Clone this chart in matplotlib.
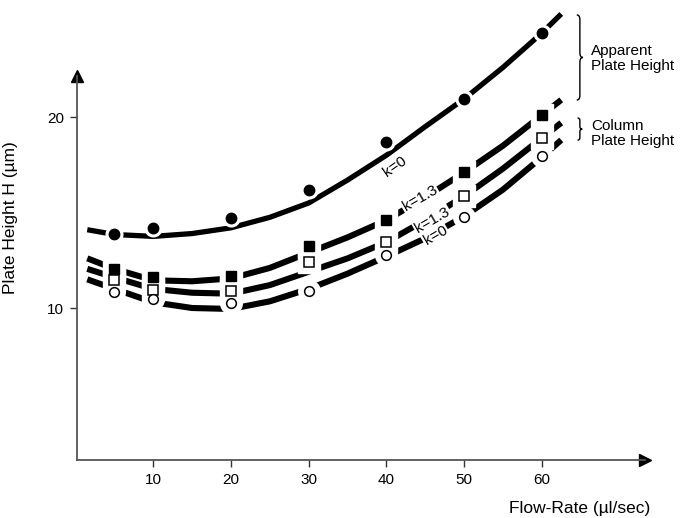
import matplotlib.pyplot as plt
from matplotlib.path import Path
from matplotlib.patches import PathPatch

plt.rcParams['font.family'] = ['Liberation Sans', 'DejaVu Sans']

# measured points (flow-rate in ul/sec, plate height in um)
flow = [5, 10, 20, 30, 40, 50, 60]
h_filled_circle = [13.9, 14.2, 14.7, 16.2, 18.7, 20.95, 24.4]
h_filled_square = [12.05, 11.6, 11.65, 13.25, 14.6, 17.1, 20.1]
h_open_square = [11.45, 10.95, 10.9, 12.4, 13.45, 15.85, 18.9]
h_open_circle = [10.85, 10.45, 10.25, 10.9, 12.75, 14.75, 17.95]

# fitted curves
curve_x = [1.5, 5, 10, 15, 20, 25, 30, 35, 40, 45, 50, 55, 60, 62.5]
curve_a = [14.1, 13.85, 13.75, 13.9, 14.2, 14.75, 15.5, 16.7, 18.0, 19.5, 20.95, 22.6, 24.4, 25.4]
curve_b = [12.6, 12.05, 11.45, 11.4, 11.55, 12.1, 12.9, 13.7, 14.6, 15.8, 17.1, 18.5, 20.1, 20.9]
curve_c = [12.05, 11.6, 11.0, 10.8, 10.75, 11.2, 11.9, 12.6, 13.45, 14.6, 15.85, 17.3, 18.9, 19.7]
curve_d = [11.5, 11.0, 10.3, 10.0, 9.95, 10.35, 11.0, 11.8, 12.7, 13.65, 14.8, 16.2, 17.9, 18.8]

xticks = [10, 20, 30, 40, 50, 60]
yticks = [10, 20]

fig = plt.figure(figsize=(6.85, 5.18), dpi=100)
ax = fig.add_axes([76.7 / 685, 58 / 518, (645 - 76.7) / 685, (460 - 76) / 518])
ax.set_xlim(0.14, 73.28)
ax.set_ylim(2.04, 22.15)

# curves
line_kw = dict(color='black', solid_capstyle='butt', solid_joinstyle='round', clip_on=False, zorder=2)
ax.plot(curve_x, curve_a, lw=3.8, **line_kw)
for cy in (curve_b, curve_c, curve_d):
    ax.plot(curve_x, cy, lw=4.4, **line_kw)

# white halos break the lines around the points
ax.plot(flow, h_filled_circle, 'o', ms=12, color='white', mec='white', clip_on=False, zorder=3)
for hy, m in ((h_filled_square, 's'), (h_open_square, 's'), (h_open_circle, 'o')):
    ax.plot(flow, hy, m, ms=15.5, color='white', mec='white', clip_on=False, zorder=3)

# points
ax.plot(flow, h_filled_circle, 'o', ms=7.5, color='black', clip_on=False, zorder=4)
ax.plot(flow, h_filled_square, 's', ms=7, color='black', clip_on=False, zorder=4)
ax.plot(flow, h_open_square, 's', ms=7, mfc='white', mec='black', mew=1.1, clip_on=False, zorder=4)
ax.plot(flow, h_open_circle, 'o', ms=7, mfc='white', mec='black', mew=1.1, clip_on=False, zorder=4)

# curve labels
ax.text(41.1, 17.4, 'k=0', fontsize=11, rotation=35, ha='center', va='center', zorder=5)
box = dict(facecolor='white', edgecolor='none', pad=1.0)
ax.text(44.3, 15.75, 'k=1.3', fontsize=11, rotation=30, ha='center', va='center', bbox=box, zorder=5)
ax.text(45.9, 14.6, 'k=1.3', fontsize=11, rotation=30, ha='center', va='center', bbox=box, zorder=5)
ax.text(46.3, 13.8, 'k=0', fontsize=11, rotation=30, ha='center', va='center', bbox=box, zorder=5)


def brace(x, y_bot, y_top, w, q):
    mid = (y_bot + y_top) / 2
    verts = [(x, y_top), (x + w / 2, y_top), (x + w / 2, y_top - q),
             (x + w / 2, mid + q),
             (x + w / 2, mid), (x + w, mid),
             (x + w / 2, mid), (x + w / 2, mid - q),
             (x + w / 2, y_bot + q),
             (x + w / 2, y_bot), (x, y_bot)]
    codes = [Path.MOVETO, Path.CURVE3, Path.CURVE3, Path.LINETO,
             Path.CURVE3, Path.CURVE3, Path.CURVE3, Path.CURVE3,
             Path.LINETO, Path.CURVE3, Path.CURVE3]
    ax.add_patch(PathPatch(Path(verts, codes), fill=False, lw=1.0, clip_on=False))


brace(64.5, 20.89, 25.35, 0.8, 0.25)
brace(64.6, 18.79, 19.95, 0.6, 0.12)
ax.text(66.3, 23.05, 'Apparent\nPlate Height', fontsize=11, ha='left', va='center', linespacing=1.1)
ax.text(66.3, 19.15, 'Column\nPlate Height', fontsize=11, ha='left', va='center', linespacing=1.1)

# axes with arrow heads
for side in ('top', 'right'):
    ax.spines[side].set_visible(False)
for side in ('left', 'bottom'):
    ax.spines[side].set_color('#555555')
    ax.spines[side].set_linewidth(1.3)
ax.plot(0, 1, '^', ms=9, color='black', transform=ax.transAxes, clip_on=False)
ax.plot(1, 0, '>', ms=9, color='black', transform=ax.transAxes, clip_on=False)

ax.set_xticks(xticks)
ax.set_yticks(yticks)
ax.tick_params(direction='out', length=5, width=1, color='#333333', labelsize=11, pad=4)

ax.set_ylabel('Plate Height H (µm)', fontsize=12.5)
ax.yaxis.set_label_coords(-0.103, 0.63)
ax.text(1.01, -0.125, 'Flow-Rate (µl/sec)', fontsize=12.5, ha='right', va='center', transform=ax.transAxes)

plt.savefig('out.png', dpi=100)
